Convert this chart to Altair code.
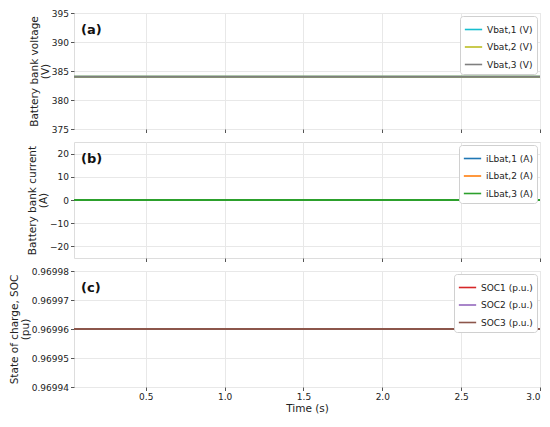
import altair as alt
import pandas as pd

# Time samples (s)
time = [0.045, 0.5, 1.0, 1.5, 2.0, 2.5, 3.0]

# Panel (a): battery bank voltages (V)
vbat1 = [384.0] * 7
vbat2 = [384.0] * 7
vbat3 = [384.0] * 7
# Panel (b): battery currents (A)
ilbat1 = [0.0] * 7
ilbat2 = [0.0] * 7
ilbat3 = [0.0] * 7
# Panel (c): state of charge (pu)
soc1 = [0.96996] * 7
soc2 = [0.96996] * 7
soc3 = [0.96996] * 7

names_a = ["Vbat,1 (V)", "Vbat,2 (V)", "Vbat,3 (V)"]
names_b = ["iLbat,1 (A)", "iLbat,2 (A)", "iLbat,3 (A)"]
names_c = ["SOC1 (p.u.)", "SOC2 (p.u.)", "SOC3 (p.u.)"]
colors_a = ["#17becf", "#bcbd22", "#7f7f7f"]
colors_b = ["#1f77b4", "#ff7f0e", "#2ca02c"]
colors_c = ["#d62728", "#9467bd", "#8c564b"]

x_ticks = [0.5, 1.0, 1.5, 2.0, 2.5, 3.0]
FONT = "DejaVu Sans"
W, H = 466, 116


def long_df(names, series):
    rows = []
    for n, s in zip(names, series):
        for t, v in zip(time, s):
            rows.append({"t": t, "v": v, "series": n})
    return pd.DataFrame(rows)


def panel(df, names, colors, ydomain, yticks, yfmt, ytitle, tag, last):
    xaxis = alt.Axis(values=x_ticks, format=".1f", labels=last,
                     title="Time (s)" if last else None, labelFlush=True,
                     labelFontSize=9, titleFontSize=10.5, titleFontWeight="normal",
                     tickSize=3.5, tickColor="#555", domain=False,
                     gridColor="#e8e8e8", labelColor="#222", titleColor="#222",
                     titlePadding=2, labelPadding=2)
    yaxis = alt.Axis(values=yticks, format=yfmt, title=ytitle, labelFlush=False,
                     labelFontSize=9, titleFontSize=10.5, titleFontWeight="normal",
                     tickSize=3.5, tickColor="#555", domain=False,
                     gridColor="#e8e8e8", labelColor="#222", titleColor="#222",
                     titlePadding=1, labelPadding=2, titleLineHeight=11)
    lines = alt.Chart(df).mark_line(strokeWidth=2, clip=True).encode(
        x=alt.X("t:Q", scale=alt.Scale(domain=[0.045, 3.0], nice=False, zero=False), axis=xaxis),
        y=alt.Y("v:Q", scale=alt.Scale(domain=ydomain, nice=False, zero=False), axis=yaxis),
        color=alt.Color("series:N",
                        scale=alt.Scale(domain=names, range=colors),
                        legend=alt.Legend(title=None, orient="top-right", offset=3,
                                          labelFontSize=9, labelFont=FONT, labelColor="#222",
                                          symbolType="stroke", symbolStrokeWidth=1.6,
                                          symbolSize=300, rowPadding=2.5,
                                          strokeColor="#d0d0d0", fillColor="white",
                                          cornerRadius=3, padding=4)),
    )
    label = alt.Chart(pd.DataFrame({"tag": [tag]})).mark_text(
        align="left", baseline="middle", fontSize=13, fontWeight="bold",
        font=FONT, color="#111"
    ).encode(text="tag:N", x=alt.value(7), y=alt.value(17))
    return alt.layer(lines, label).properties(width=W, height=H).resolve_scale(color="independent")


df_a = long_df(names_a, [vbat1, vbat2, vbat3])
df_b = long_df(names_b, [ilbat1, ilbat2, ilbat3])
df_c = long_df(names_c, [soc1, soc2, soc3])

pa = panel(df_a, names_a, colors_a, [375, 395], [375, 380, 385, 390, 395], "d",
           ["Battery bank voltage", "(V)"], "(a)", False)
pb = panel(df_b, names_b, colors_b, [-25, 25], [-20, -10, 0, 10, 20], "d",
           ["Battery bank current", "(A)"], "(b)", False)
pc = panel(df_c, names_c, colors_c, [0.96994, 0.96998],
           [0.96994, 0.96995, 0.96996, 0.96997, 0.96998], ".5f",
           ["State of charge, SOC", "(pu)"], "(c)", True)

chart = alt.vconcat(pa, pb, pc, spacing=13, bounds="flush").resolve_scale(
    color="independent"
).resolve_legend(color="independent").properties(
    padding={"left": 0, "top": 0, "right": 0, "bottom": 0},
    background="white",
).configure_view(
    stroke="#555", strokeWidth=1
).configure(font=FONT)

chart.save("out.html", embed_options={"renderer": "svg", "actions": False})
